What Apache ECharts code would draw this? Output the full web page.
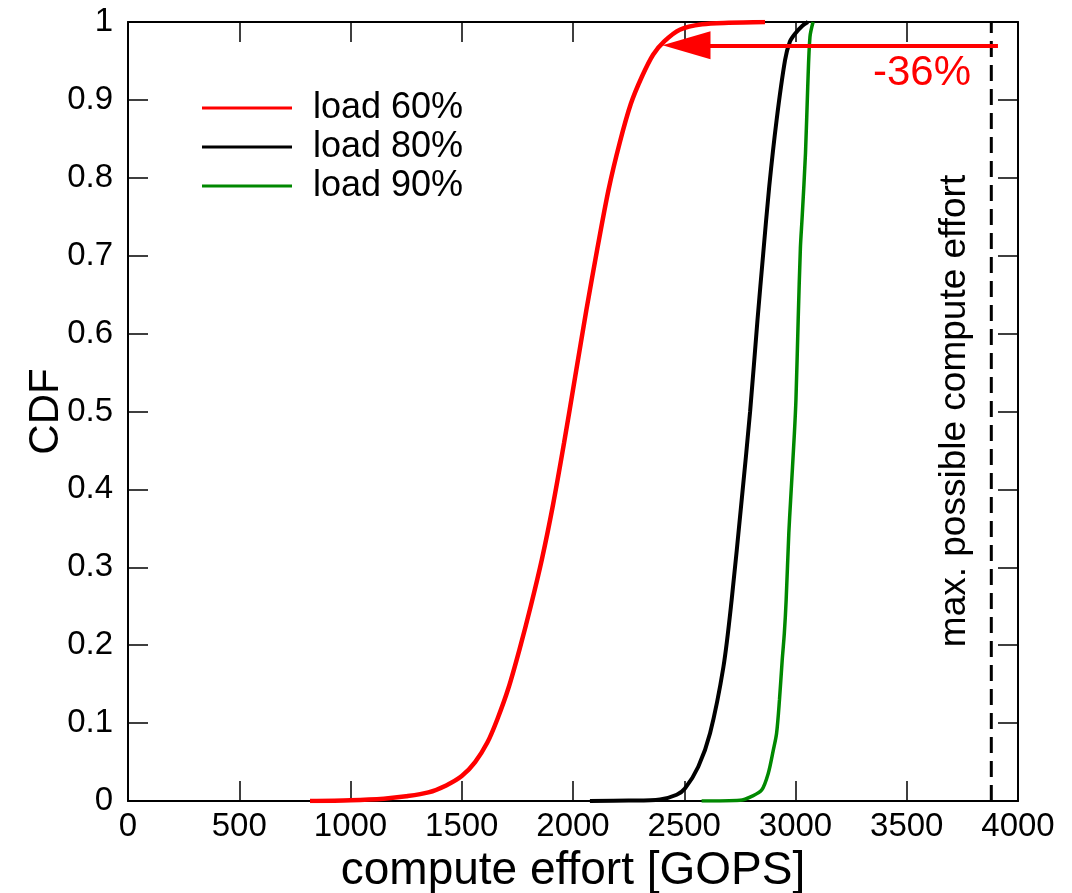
<!DOCTYPE html>
<html>
<head>
<meta charset="utf-8">
<script src="https://cdn.jsdelivr.net/npm/echarts@6/dist/echarts.min.js"></script>
<style>
  html, body { margin: 0; padding: 0; background: #fff; }
  #chart { width: 1072px; height: 893px; }
</style>
</head>
<body>
<div id="chart"></div>
<script>
// CDF of compute effort
const load60Effort = [818, 1000, 1150, 1250, 1350, 1430, 1500, 1560, 1615, 1660, 1710, 1760, 1810, 1860, 1910, 1960, 2010, 2060, 2110, 2160, 2210, 2260, 2310, 2360, 2410, 2480, 2580, 2700, 2863]
const load60Cdf = [0, 0.001, 0.003, 0.006, 0.011, 0.02, 0.032, 0.05, 0.075, 0.105, 0.145, 0.195, 0.25, 0.31, 0.38, 0.46, 0.545, 0.63, 0.71, 0.785, 0.845, 0.895, 0.93, 0.958, 0.975, 0.99, 0.997, 0.999, 1]

const load80Effort = [2076, 2250, 2391, 2466, 2503, 2563, 2616, 2676, 2713, 2758, 2796, 2829, 2855, 2882, 2915, 2953, 2975, 2998, 3030, 3056]
const load80Cdf = [0, 0.0005, 0.002, 0.008, 0.016, 0.044, 0.087, 0.172, 0.258, 0.386, 0.5, 0.617, 0.703, 0.789, 0.874, 0.951, 0.975, 0.985, 0.995, 1]

const load90Effort = [2578, 2751, 2803, 2848, 2878, 2900, 2915, 2928, 2940, 2950, 2958, 2970, 2978, 2995, 3002, 3012, 3022, 3030, 3045, 3055, 3065, 3079]
const load90Cdf = [0, 0.001, 0.006, 0.014, 0.036, 0.065, 0.087, 0.13, 0.18, 0.216, 0.258, 0.344, 0.386, 0.472, 0.515, 0.617, 0.71, 0.75, 0.832, 0.917, 0.981, 1]

const maxEffort = 3880            // max. possible compute effort
const arrowLevel = 0.97           // CDF level of the -36% arrow
const arrowFrom = 3910
const arrowTo = 2510

const xTicks = [0, 500, 1000, 1500, 2000, 2500, 3000, 3500, 4000]
const yTicks = [0, 0.1, 0.2, 0.3, 0.4, 0.5, 0.6, 0.7, 0.8, 0.9, 1]

const font = "'Liberation Sans', Arial, Helvetica, sans-serif"
const zip = (xs, ys) => xs.map((x, i) => [x, ys[i]])

const chart = echarts.init(document.getElementById("chart"), null, { renderer: "canvas" })

const baseAxis = {
  type: "value",
  axisLine: { show: true, onZero: false, lineStyle: { color: "#000", width: 2 } },
  axisTick: { show: true, inside: true, length: 20, lineStyle: { color: "#000", width: 1.5 } },
  splitLine: { show: false },
}

const option = {
  animation: false,
  backgroundColor: "#fff",
  grid: { left: 128, right: 54, top: 22, bottom: 92, containLabel: false, outerBoundsMode: "none" },
  legend: {
    data: ["load 60%", "load 80%", "load 90%"],
    orient: "vertical",
    left: 197,
    top: 85,
    icon: "rect",
    itemWidth: 90,
    itemHeight: 3,
    itemGap: 3,
    textStyle: { fontFamily: font, fontSize: 36, lineHeight: 36, color: "#000", padding: [0, 0, 0, 16] },
    selectedMode: false,
  },
  xAxis: [
    {
      ...baseAxis,
      min: xTicks[0],
      max: xTicks[xTicks.length - 1],
      interval: 500,
      position: "bottom",
      name: "compute effort [GOPS]",
      nameLocation: "middle",
      nameGap: 41,
      nameTextStyle: { fontFamily: font, fontSize: 46, color: "#000", verticalAlign: "top" },
      axisLabel: { fontFamily: font, fontSize: 33, color: "#000", margin: 9, formatter: v => String(v) },
    },
    {
      ...baseAxis,
      min: xTicks[0],
      max: xTicks[xTicks.length - 1],
      interval: 500,
      position: "top",
      axisLabel: { show: false },
    },
  ],
  yAxis: [
    {
      ...baseAxis,
      min: yTicks[0],
      max: yTicks[yTicks.length - 1],
      interval: 0.1,
      position: "left",
      name: "CDF",
      nameLocation: "middle",
      nameRotate: 90,
      nameGap: 61,
      nameMoveOverlap: false,
      nameTextStyle: { fontFamily: font, fontSize: 42, color: "#000" },
      axisLabel: { fontFamily: font, fontSize: 33, color: "#000", margin: 15 },
    },
    {
      ...baseAxis,
      min: yTicks[0],
      max: yTicks[yTicks.length - 1],
      interval: 0.1,
      position: "right",
      axisLabel: { show: false },
    },
  ],
  series: [
    {
      name: "load 60%",
      type: "line",
      data: zip(load60Effort, load60Cdf),
      smooth: 0.3,
      showSymbol: false,
      symbol: "none",
      color: "#ff0000",
      lineStyle: { color: "#ff0000", width: 4.5 },
      z: 3,
      markLine: {
        silent: true,
        symbol: ["none", "triangle"],
        symbolSize: [28, 48],
        lineStyle: { color: "#ff0000", width: 4, type: "solid" },
        label: { show: false },
        emphasis: { disabled: true },
        data: [[{ coord: [arrowFrom, arrowLevel] }, { coord: [arrowTo, arrowLevel] }]],
      },
    },
    {
      name: "load 80%",
      type: "line",
      data: zip(load80Effort, load80Cdf),
      smooth: 0.3,
      showSymbol: false,
      symbol: "none",
      color: "#000000",
      lineStyle: { color: "#000000", width: 4 },
      z: 2,
    },
    {
      name: "load 90%",
      type: "line",
      data: zip(load90Effort, load90Cdf),
      smooth: 0.3,
      showSymbol: false,
      symbol: "none",
      color: "#008800",
      lineStyle: { color: "#008800", width: 3.5 },
      z: 2,
    },
    {
      name: "max",
      type: "line",
      data: [[maxEffort, 0], [maxEffort, 1]],
      showSymbol: false,
      symbol: "none",
      lineStyle: { color: "#000", width: 3, type: [16, 8] },
      z: 1,
    },
  ],
  graphic: [
    {
      type: "text",
      x: 922,
      y: 73,
      style: {
        text: "-36%",
        fontFamily: font,
        fontSize: 42,
        fill: "#ff0000",
        align: "center",
        verticalAlign: "middle",
      },
    },
    {
      type: "text",
      x: 955,
      y: 411,
      rotation: Math.PI / 2,
      style: {
        text: "max. possible compute effort",
        fontFamily: font,
        fontSize: 37,
        fill: "#000",
        align: "center",
        verticalAlign: "middle",
      },
    },
  ],
}

chart.setOption(option)
</script>
</body>
</html>
